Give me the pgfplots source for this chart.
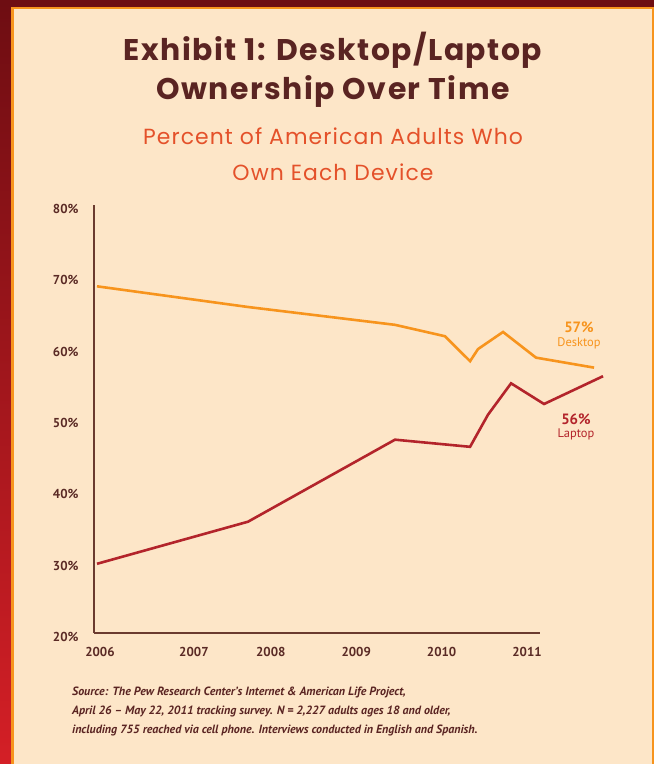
\documentclass[border=0pt]{standalone}
\usepackage{pgfplots}
\pgfplotsset{compat=1.18}
\usepackage{fontspec}
\setmainfont{PT Sans}
\newfontfamily\titlefont[LetterSpace=5]{Poppins}
\newfontfamily\subfont[LetterSpace=5]{Poppins}
\definecolor{bg}{HTML}{FDE6C8}
\definecolor{darkred}{HTML}{6E0D12}
\definecolor{brightred}{HTML}{D41F26}
\definecolor{frameorange}{HTML}{F7941D}
\definecolor{titlebrown}{HTML}{5A2422}
\definecolor{subred}{HTML}{E4512A}
\definecolor{axisbrown}{HTML}{6B3B2F}
\definecolor{ticktext}{HTML}{5A2A25}
\definecolor{desk}{HTML}{F7941D}
\definecolor{lap}{HTML}{B3242B}
\begin{document}
\begin{tikzpicture}[x=1bp,y=1bp]
\useasboundingbox (0,0) rectangle (654,764);
\fill[bg] (0,0) rectangle (654,764);
\shade[top color=darkred, bottom color=brightred] (0,0) rectangle (11,764);
\fill[darkred] (0,757) rectangle (654,764);
\fill[frameorange] (11,0) rectangle (13.5,757);
\fill[frameorange] (11,754.5) rectangle (654,757);
\fill[frameorange] (651.5,0) rectangle (654,757);

\node[anchor=base, inner sep=0pt, text=titlebrown, font=\titlefont\bfseries\fontsize{30}{30}\selectfont] at (333,703.3) {Exhibit 1: Desktop/Laptop};
\node[anchor=base, inner sep=0pt, text=titlebrown, font=\titlefont\bfseries\fontsize{30}{30}\selectfont] at (333,664.7) {Ownership Over Time};
\node[anchor=base, inner sep=0pt, text=subred, font=\subfont\fontsize{22}{22}\selectfont] at (333,619) {Percent of American Adults Who};
\node[anchor=base, inner sep=0pt, text=subred, font=\subfont\fontsize{22}{22}\selectfont] at (333,583.3) {Own Each Device};

\begin{axis}[
  at={(94bp,131bp)}, anchor=south west,
  scale only axis, width=446bp, height=428bp,
  xmin=2005.93, xmax=2011.152, ymin=20, ymax=80,
  axis x line=bottom, axis y line=left,
  axis line style={-, draw=axisbrown, line width=1.3bp},
  xtick={2006,2007.1,2008,2009,2010,2011},
  xticklabels={2006,2007,2008,2009,2010,2011},
  ytick={20,30,40,50,60,70,80},
  yticklabel={\pgfmathprintnumber{\tick}\%},
  /pgf/number format/assume math mode=true,
  major tick length=0pt,
  tick label style={font=\bfseries\fontsize{13}{13}\selectfont, text=ticktext},
  xticklabel style={yshift=-11bp},
  yticklabel style={xshift=-12bp, yshift=-4bp},
  clip=false,
]
\addplot[desk, line width=2.6bp, no markers] coordinates {
  (2005.965,68.6) (2007.733,65.7) (2009.454,63.2) (2010.040,61.6)
  (2010.333,58.1) (2010.426,59.8) (2010.719,62.2) (2011.105,58.6)
  (2011.785,57.2)
};
\addplot[lap, line width=2.6bp, no markers] coordinates {
  (2005.965,29.7) (2007.733,35.6) (2009.454,47.1) (2010.333,46.1)
  (2010.543,50.6) (2010.813,55.0) (2011.199,52.1) (2011.890,56.0)
};
\end{axis}

\node[anchor=base, inner sep=0pt, text=desk, font=\bfseries\fontsize{15}{15}\selectfont] at (579,431) {57\%};
\node[anchor=base, inner sep=0pt, text=desk, font=\fontsize{12.5}{12.5}\selectfont] at (579,417.5) {Desktop};
\node[anchor=base, inner sep=0pt, text=lap, font=\bfseries\fontsize{15}{15}\selectfont] at (576,339.5) {56\%};
\node[anchor=base, inner sep=0pt, text=lap, font=\fontsize{12.5}{12.5}\selectfont] at (576,326.5) {Laptop};

\begin{scope}[every node/.style={anchor=base west, inner sep=0pt, text=titlebrown, font=\bfseries\itshape\fontsize{12}{12}\selectfont}]
\node at (72,68.5) {Source: The Pew Research Center's Internet \& American Life Project,};
\node at (72,49.5) {April 26 -- May 22, 2011 tracking survey. N = 2,227 adults ages 18 and older,};
\node at (72,30) {including 755 reached via cell phone. Interviews conducted in English and Spanish.};
\end{scope}
\end{tikzpicture}
\end{document}
